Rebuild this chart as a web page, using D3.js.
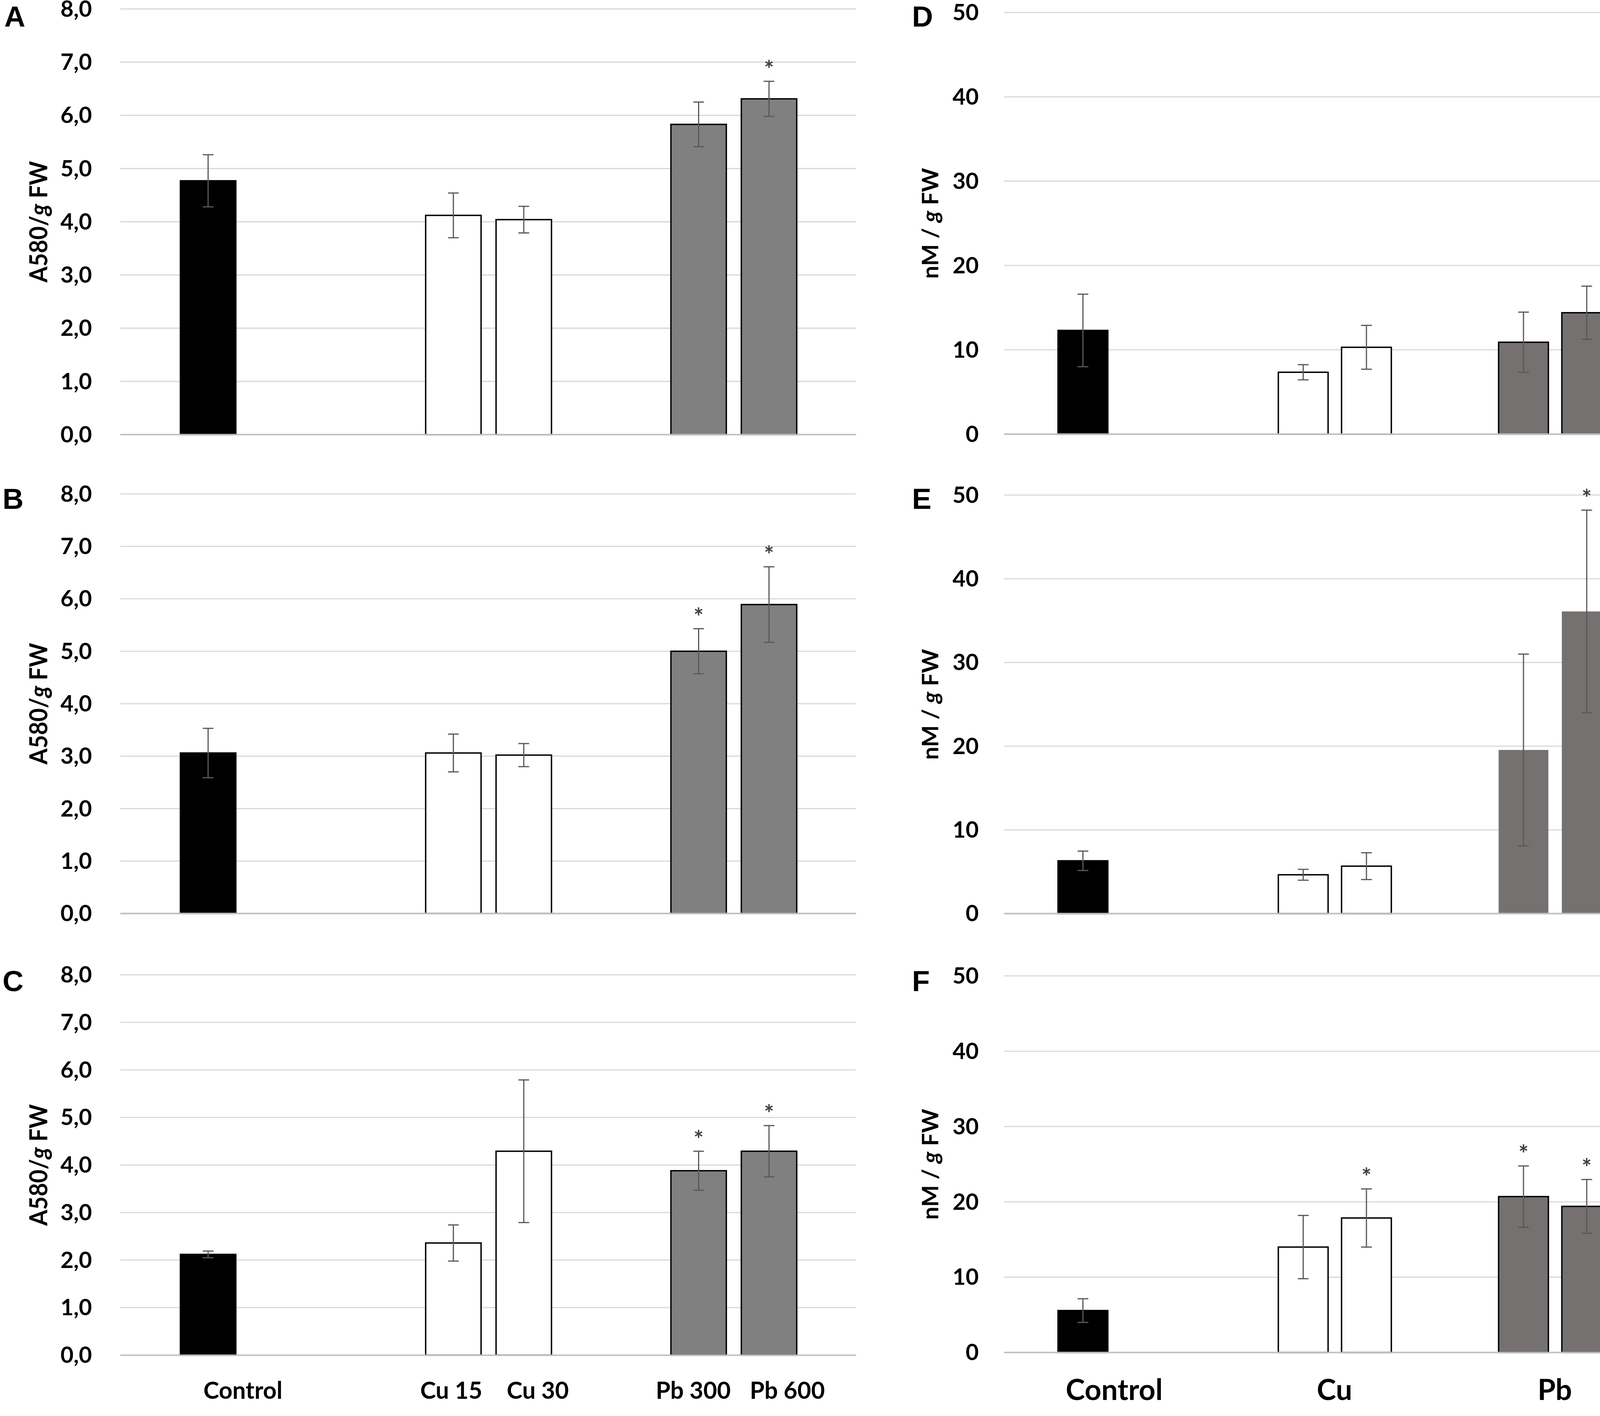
<!DOCTYPE html>
<html lang="en">

<head>
    <meta charset="UTF-8">
    <title>Anthocyanin and MDA content - panels A-F</title>
    <style>
        body {
            margin: 0;
            background: #fff;
            overflow: hidden;
        }

        #chart {
            display: block;
        }

        #chart text {
            font-family: "Lato", "Open Sans", sans-serif;
            font-weight: bold;
            fill: #000;
        }

        #chart .letter {
            font-family: "Liberation Sans", Arial, sans-serif;
        }
    </style>
</head>

<body>
    <svg id="chart" width="4317" height="3626" viewBox="0 0 1566 1316"></svg>

    <script src="https://d3js.org/d3.v7.min.js"></script>
    <script>
        // categories and bar layout (Control has only one bar)
        const groups = ["Control", "Cu", "Pb"];
        const barGroup = [0, 1, 1, 2, 2];
        const barSlot = [0, 0, 1, 0, 1];
        const leftBarLabels = ["Control", "Cu 15", "Cu 30", "Pb 300", "Pb 600"];

        // tick values
        const leftTicks = [0, 1, 2, 3, 4, 5, 6, 7, 8];
        const rightTicks = [0, 10, 20, 30, 40, 50];

        // A580/g FW (left panels)
        const meanA = [4.77, 4.12, 4.04, 5.83, 6.31];
        const errA = [0.49, 0.42, 0.25, 0.42, 0.33];
        const starA = [0, 0, 0, 0, 1];

        const meanB = [3.06, 3.06, 3.02, 5.00, 5.89];
        const errB = [0.47, 0.36, 0.22, 0.43, 0.72];
        const starB = [0, 0, 0, 1, 1];

        const meanC = [2.12, 2.36, 4.29, 3.88, 4.29];
        const errC = [0.07, 0.38, 1.50, 0.41, 0.54];
        const starC = [0, 0, 0, 1, 1];

        // nM / g FW (right panels)
        const meanD = [12.3, 7.34, 10.3, 10.9, 14.4];
        const errD = [4.3, 0.9, 2.6, 3.57, 3.15];
        const starD = [0, 0, 0, 0, 0];

        const meanE = [6.31, 4.64, 5.67, 19.55, 36.1];
        const errE = [1.16, 0.65, 1.6, 11.45, 12.1];
        const starE = [0, 0, 0, 0, 1];

        const meanF = [5.57, 14.0, 17.86, 20.7, 19.4];
        const errF = [1.57, 4.2, 3.86, 4.07, 3.57];
        const starF = [0, 0, 1, 1, 1];

        const commaFmt = d3.formatLocale({ decimal: ",", thousands: ".", grouping: [3], currency: ["", ""] }).format(".1f");

        const leftFill = ["#000000", "#ffffff", "#ffffff", "#808080", "#808080"];
        const rightFill = ["#000000", "#ffffff", "#ffffff", "#767171", "#767171"];

        const panels = [
            { letter: "A", lx: 3.6, ly: 24.5, side: "left", top: 8.3, bottom: 403.9, mean: meanA, err: errA, star: starA },
            { letter: "B", lx: 2, ly: 473, side: "left", top: 459, bottom: 849, mean: meanB, err: errB, star: starB },
            { letter: "C", lx: 2, ly: 921, side: "left", top: 906, bottom: 1259.5, mean: meanC, err: errC, star: starC },
            { letter: "D", lx: 847, ly: 24.5, side: "right", top: 11.6, bottom: 403.5, mean: meanD, err: errD, star: starD },
            { letter: "E", lx: 847, ly: 473, side: "right", top: 460.1, bottom: 849.1, mean: meanE, err: errE, star: starE, noOutline: true },
            { letter: "F", lx: 847, ly: 921, side: "right", top: 907, bottom: 1257, mean: meanF, err: errF, star: starF }
        ];

        const sides = {
            left: {
                x0: 111.4, x1: 795, ticks: leftTicks, max: 8, fmt: commaFmt, tickX: 85,
                titleX: 43.5, titleSize: 23, titleLen: 113, prefix: "A580/", suffix: " FW", fill: leftFill
            },
            right: {
                x0: 932.5, x1: 1546.5, ticks: rightTicks, max: 50, fmt: d3.format("d"), tickX: 909,
                titleX: 871.5, titleSize: 21, titleLen: 103, prefix: "nM / ", suffix: " FW", fill: rightFill
            }
        };

        const svg = d3.select("#chart");

        function drawPanel(p) {
            const s = sides[p.side];
            const g = svg.append("g");

            const x = d3.scaleBand().domain(groups).range([s.x0, s.x1]).paddingInner(0).paddingOuter(0);
            const bw = x.bandwidth();
            const xs = d3.scaleBand().domain([0, 1]).range([0.245 * bw, 0.758 * bw]).paddingInner(0.213);
            const y = d3.scaleLinear().domain([0, s.max]).range([p.bottom, p.top]);

            // gridlines
            g.selectAll(".grid")
                .data(s.ticks.filter(t => t > 0))
                .enter().append("line")
                .attr("x1", s.x0).attr("x2", s.x1)
                .attr("y1", d => y(d)).attr("y2", d => y(d))
                .attr("stroke", "#d9d9d9").attr("stroke-width", 1.1);

            // y axis labels via d3 axis, domain line removed
            const yAxis = g.append("g")
                .attr("transform", `translate(${s.tickX},0)`)
                .call(d3.axisLeft(y).tickValues(s.ticks).tickFormat(s.fmt).tickSize(0).tickPadding(0));
            yAxis.select(".domain").remove();
            yAxis.selectAll("text")
                .attr("font-size", 21)
                .style("font-family", "Lato, sans-serif")
                .style("font-weight", "bold")
                .attr("fill", "#000");

            const idx = d3.range(p.mean.length);
            const barX = i => x(groups[barGroup[i]]) + xs(barSlot[i]);

            g.selectAll(".bar")
                .data(idx)
                .enter().append("rect")
                .attr("x", i => barX(i))
                .attr("y", i => y(p.mean[i]))
                .attr("width", xs.bandwidth())
                .attr("height", i => y(0) - y(p.mean[i]))
                .attr("fill", i => s.fill[i])
                .attr("stroke", i => (p.noOutline && barGroup[i] === 2) ? "none" : "#000")
                .attr("stroke-width", 1.3);

            // x axis line
            g.append("line")
                .attr("x1", s.x0).attr("x2", s.x1)
                .attr("y1", y(0)).attr("y2", y(0))
                .attr("stroke", "#bfbfbf").attr("stroke-width", 1.4);

            // error bars
            const eb = g.selectAll(".err").data(idx).enter().append("g")
                .attr("stroke", "#595959").attr("stroke-width", 1.1);
            const cx = i => barX(i) + xs.bandwidth() / 2;
            eb.append("line")
                .attr("x1", cx).attr("x2", cx)
                .attr("y1", i => y(p.mean[i] + p.err[i]))
                .attr("y2", i => y(p.mean[i] - p.err[i]));
            [1, -1].forEach(sign => {
                eb.append("line")
                    .attr("x1", i => cx(i) - 5).attr("x2", i => cx(i) + 5)
                    .attr("y1", i => y(p.mean[i] + sign * p.err[i]))
                    .attr("y2", i => y(p.mean[i] + sign * p.err[i]));
            });

            // significance asterisks
            g.selectAll(".star")
                .data(idx.filter(i => p.star[i]))
                .enter().append("text")
                .attr("x", cx)
                .attr("y", i => y(p.mean[i] + p.err[i]) - 3)
                .attr("text-anchor", "middle")
                .attr("font-size", 22)
                .style("fill", "#404040")
                .text("*");

            // y axis title
            const cy = (p.top + p.bottom) / 2;
            const title = g.append("text")
                .attr("transform", `translate(${s.titleX},${cy}) rotate(-90)`)
                .attr("text-anchor", "middle")
                .attr("font-size", s.titleSize)
                .attr("textLength", s.titleLen)
                .attr("lengthAdjust", "spacingAndGlyphs");
            title.append("tspan").text(s.prefix);
            title.append("tspan").attr("font-style", "italic").text("g");
            title.append("tspan").text(s.suffix);

            // panel letter
            g.append("text")
                .attr("class", "letter")
                .attr("x", p.lx).attr("y", p.ly)
                .attr("font-size", 27)
                .text(p.letter);

            return { x, xs, cx };
        }

        const drawn = panels.map(drawPanel);

        // bottom category labels, left column (each bar labelled; hand-placed nudges)
        const leftLabelNudge = [0, -2, 13, -5, 17];
        const lc = drawn[2];
        svg.selectAll(".leftlab")
            .data(d3.range(leftBarLabels.length))
            .enter().append("text")
            .attr("x", i => (i === 0 ? lc.x(groups[0]) + lc.x.bandwidth() / 2 : lc.cx(i)) + leftLabelNudge[i])
            .attr("y", 1300)
            .attr("text-anchor", "middle")
            .attr("font-size", 22)
            .text(i => leftBarLabels[i]);

        // bottom category labels, right column
        const rc = drawn[5];
        svg.selectAll(".rightlab")
            .data(groups)
            .enter().append("text")
            .attr("x", d => rc.x(d) + rc.x.bandwidth() / 2)
            .attr("y", 1301)
            .attr("text-anchor", "middle")
            .attr("font-size", 27)
            .text(d => d);
    </script>
</body>

</html>
